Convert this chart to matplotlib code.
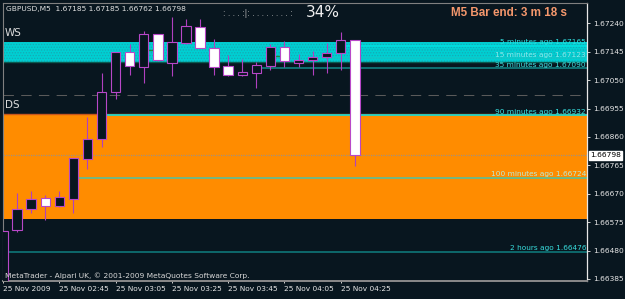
import matplotlib.pyplot as plt
from matplotlib.patches import Rectangle
from matplotlib.transforms import offset_copy

W, H = 625, 299
BG = "#08161f"

# visible GBPUSD M5 bars, oldest first (bar 0 is cut by the left edge)
opens = [1.66330, 1.66548, 1.66619, 1.66656, 1.66628, 1.66651, 1.66785, 1.66853, 1.67009, 1.67144,
         1.67093, 1.67203, 1.67108, 1.67174, 1.67229, 1.67158, 1.67096, 1.67066, 1.67073, 1.67096,
         1.67162, 1.67108, 1.67117, 1.67128, 1.67140, 1.67185]
highs = [1.66546, 1.66672, 1.66679, 1.66666, 1.66679, 1.66790, 1.66928, 1.67073, 1.67145, 1.67171,
         1.67214, 1.67204, 1.67262, 1.67253, 1.67254, 1.67188, 1.67134, 1.67120, 1.67112, 1.67171,
         1.67182, 1.67136, 1.67147, 1.67173, 1.67212, 1.67185]
lows = [1.66320, 1.66543, 1.66605, 1.66582, 1.66626, 1.66607, 1.66752, 1.66827, 1.66987, 1.67067,
        1.67039, 1.67115, 1.67064, 1.67172, 1.67156, 1.67067, 1.67064, 1.67065, 1.67023, 1.67084,
        1.67095, 1.67095, 1.67067, 1.67073, 1.67084, 1.66762]
closes = [1.66546, 1.66620, 1.66651, 1.66628, 1.66658, 1.66789, 1.66852, 1.67009, 1.67144, 1.67096,
          1.67203, 1.67117, 1.67176, 1.67231, 1.67158, 1.67093, 1.67066, 1.67077, 1.67101, 1.67162,
          1.67114, 1.67116, 1.67126, 1.67142, 1.67184, 1.66798]

time_ticks = [0, 4, 8, 12, 16, 20, 24]
time_labels = ["25 Nov 2009", "25 Nov 02:45", "25 Nov 03:05", "25 Nov 03:25",
               "25 Nov 03:45", "25 Nov 04:05", "25 Nov 04:25"]
price_ticks = [1.67240, 1.67145, 1.67050, 1.66955, 1.66860, 1.66765, 1.66670, 1.66575, 1.66480, 1.66385]

ws_zone = (1.67111, 1.67177)
ds_zone = (1.66585, 1.66937)
mid_level = 1.67000

ago_labels = ["5 minutes ago", "15 minutes ago", "35 minutes ago", "90 minutes ago",
              "100 minutes ago", "2 hours ago"]
ago_prices = [1.67165, 1.67123, 1.67090, 1.66932, 1.66724, 1.66476]
ago_bars = [24, 22, 18, 7, 5, 0]

marker_bars = [10, 19]
marker_prices = [1.67151, 1.67132]

# styles for the "ago" lines
ago_line_colors = ["#00e0e0", "#10c8c8", "#128a8a", "#00e8e8", "#4cc4a8", "#0f7f80"]
ago_text_colors = ["#30dede", "#8ee8ea", "#40e0e0", "#38e6e6", "#b8ecd8", "#38dcdc"]

plt.rcParams["hatch.linewidth"] = 0.6

fig = plt.figure(figsize=(W / 100, H / 100), dpi=100, facecolor=BG)
ax = fig.add_axes([3 / W, 1 - 281 / H, 584 / W, 278 / H])
ax.set_facecolor(BG)
x_max = 41.5
ax.set_xlim(0, x_max)
ax.set_ylim(1.66378, 1.67308)

# zones
ax.axhspan(ws_zone[0], ws_zone[1], facecolor="#00cfd2", edgecolor="#16a9b4", hatch="......",
           lw=0, zorder=1)
ax.axhline(ws_zone[0], color="#0b5a50", lw=1, zorder=1.5)
ax.axhspan(ds_zone[0], ds_zone[1], color="#ff8c00", lw=0, zorder=1)
ax.axhline(ds_zone[1], color="#c8561c", lw=1, zorder=1.5)
ax.axhline(mid_level, color="#5a5a5a", lw=0.75, ls=(0, (10, 7)), zorder=1.5)
ax.axhline(closes[-1], color="#a09080", lw=0.9, ls=(0, (1, 1)), zorder=1.6)

# "x minutes ago" levels
right_edge = offset_copy(ax.get_yaxis_transform(), fig=fig, x=-1, y=0.5, units="dots")
for lab, p, b, lc, tc in zip(ago_labels, ago_prices, ago_bars, ago_line_colors, ago_text_colors):
    ax.hlines(p, b, x_max, color=lc, lw=1.1, zorder=2)
    ax.text(1.0, p, f"{lab} {p:.5f}", transform=right_edge, ha="right", va="bottom",
            fontsize=5.3, color=tc, zorder=3)

for b, p in zip(marker_bars, marker_prices):
    ax.hlines(p, b + 0.05, b + 1.0, color="#1c8a3c", lw=1, zorder=3)

# candles
body_w = 0.67
for i, (o, h, l, c) in enumerate(zip(opens, highs, lows, closes)):
    ax.vlines(i, l, h, color="#b040c0", lw=0.8, zorder=4)
    fill = "#ffffff" if c < o else BG
    ax.add_patch(Rectangle((i - body_w / 2, min(o, c)), body_w, abs(c - o),
                           facecolor=fill, edgecolor="#b848c8", lw=0.8, zorder=5))

# axes styling
for side in ["left", "top"]:
    ax.spines[side].set_color("#808080")
    ax.spines[side].set_linewidth(0.8)
ax.spines["bottom"].set_color("#8a8a8a")
ax.spines["bottom"].set_linewidth(1.4)
ax.spines["right"].set_color("#e8e8e8")
ax.spines["right"].set_linewidth(0.9)

ax.yaxis.tick_right()
ax.set_yticks(price_ticks)
ax.set_yticklabels([f"{p:.5f}" for p in price_ticks])
ax.tick_params(axis="y", direction="out", length=2.2, width=0.7, pad=2.5,
               labelsize=5.4, colors="#d0d0d0", labelcolor="#e6e6e6")
ax.set_xticks(time_ticks)
ax.set_xticklabels(time_labels, ha="left")
ax.tick_params(axis="x", direction="out", length=1.5, width=0.7, pad=2,
               labelsize=5.3, colors="#d0d0d0", labelcolor="#e6e6e6")

# current price box
box_tr = offset_copy(ax.get_yaxis_transform(), fig=fig, x=3, y=0, units="dots")
ax.text(1.0, closes[-1], f"{closes[-1]:.5f}", transform=box_tr, ha="left", va="center",
        fontsize=5.4, color="black", clip_on=False, zorder=6,
        bbox=dict(boxstyle="square,pad=0.2", fc="white", ec="white"))

# zone labels
ytr = ax.get_yaxis_transform()
ax.text(0.003, ws_zone[1], "WS", transform=offset_copy(ytr, fig=fig, x=0, y=4, units="dots"),
        ha="left", va="bottom", fontsize=7.5, color="#dcdcdc")
ax.text(0.003, ds_zone[1], "DS", transform=offset_copy(ytr, fig=fig, x=0, y=4, units="dots"),
        ha="left", va="bottom", fontsize=7.5, color="#dcdcdc")

# header texts
def fx(px):
    return px / W

def fy(py):
    return 1 - py / H

fig.text(fx(6.5), fy(8.5), f"GBPUSD,M5  {opens[-1]:.5f} {highs[-1]:.5f} {lows[-1]:.5f} {closes[-1]:.5f}",
         ha="left", va="center", fontsize=5.4, color="#e0e0e0")
fig.text(fx(223), fy(14), ": . . . :|: . . . . . . . . :", ha="left", va="center",
         fontsize=5.5, color="#c8c8c8")
fig.text(fx(306), fy(12.5), "34%", ha="left", va="center", fontsize=11, color="#f0f0f0")
fig.text(fx(451), fy(13.5), "M5 Bar end: 3 m 18 s", ha="left", va="center", fontsize=8.4,
         fontweight="bold", color="#f4976c", family=["Liberation Sans", "DejaVu Sans"])
fig.text(fx(5), fy(276), "MetaTrader - Alpari UK, \u00a9 2001-2009 MetaQuotes Software Corp.",
         ha="left", va="center", fontsize=5.4, color="#d8d8d8")

fig.savefig("out.png", dpi=100, facecolor=BG)
